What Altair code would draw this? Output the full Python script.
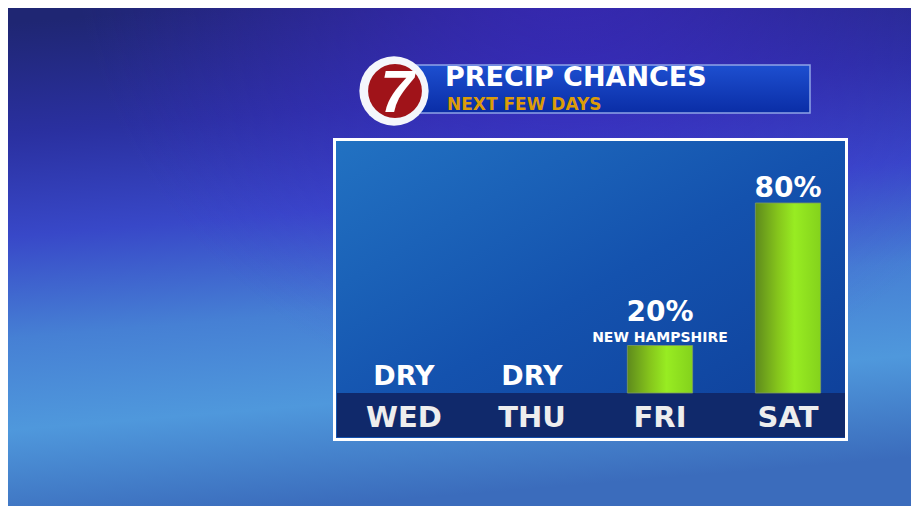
import altair as alt
import pandas as pd

# ---- data ----
days = ["WED", "THU", "FRI", "SAT"]
chances = [0, 0, 20, 80]
notes = ["", "", "NEW HAMPSHIRE", ""]
title_main = "PRECIP CHANCES"
title_sub = "NEXT FEW DAYS"

labels = ["DRY" if v == 0 else f"{v}%" for v in chances]
df = pd.DataFrame({"day": days, "chance": chances, "note": notes, "label": labels})
one = pd.DataFrame({"k": [0]})

W, H = 903, 498
FONT = "DejaVu Sans"

xscale = alt.Scale(domain=days, range=[332, 844], paddingInner=0.49, paddingOuter=0.245)
yscale = alt.Scale(domain=[0, 100], range=[385, 147.5], nice=False, zero=True)
X = alt.X("day:N", scale=xscale, axis=None, sort=days)
Y = alt.Y("chance:Q", scale=yscale, axis=None)

def grad(stops, x1=0, y1=0, x2=0, y2=1):
    return alt.Gradient(
        gradient="linear",
        stops=[alt.GradientStop(color=c, offset=o) for o, c in stops],
        x1=x1, y1=y1, x2=x2, y2=y2,
    )

def rgrad(stops, cx, cy, r):
    return alt.Gradient(
        gradient="radial",
        stops=[alt.GradientStop(color=c, offset=o) for o, c in stops],
        x1=cx, y1=cy, r1=0, x2=cx, y2=cy, r2=r,
    )

# background
bg = alt.Chart(one).mark_rect(
    fill=grad([(0, "#1f2673"), (0.22, "#2a30a0"), (0.42, "#3848c8"),
               (0.62, "#4680d4"), (0.8, "#4f98dc"), (1, "#3b6cbc")],
              x1=0.2, y1=0, x2=0.35, y2=1)
).encode(x=alt.value(0), x2=alt.value(W), y=alt.value(0), y2=alt.value(H))

glow = alt.Chart(one).mark_rect(
    fill=rgrad([(0, "rgba(70,40,215,0.65)"), (0.6, "rgba(70,40,215,0.25)"), (1, "rgba(70,40,215,0)")],
               0.62, 0.12, 0.55)
).encode(x=alt.value(0), x2=alt.value(W), y=alt.value(0), y2=alt.value(H))

# panel
panel = alt.Chart(one).mark_rect(
    fill=grad([(0, "#2272c2"), (0.5, "#1452ae"), (1, "#0e3e98")], x1=0, y1=0, x2=1, y2=1),
    stroke="white", strokeWidth=3,
).encode(x=alt.value(326.5), x2=alt.value(838.5), y=alt.value(131.5), y2=alt.value(431.5))

band = alt.Chart(one).mark_rect(fill="#10296b").encode(
    x=alt.value(329), x2=alt.value(837), y=alt.value(385), y2=alt.value(429)
)

# bars
bars = alt.Chart(df).transform_filter("datum.chance > 0").mark_bar(
    fill=grad([(0, "#5e8a1c"), (0.35, "#86c61c"), (0.6, "#98ec22"), (1, "#84d21c")],
              x1=0, y1=0, x2=1, y2=0),
    stroke="#7d9a66", strokeWidth=0.8,
).encode(x=X, y=Y, y2=alt.datum(0))

dry = alt.Chart(df).transform_filter("datum.chance == 0").mark_text(
    font=FONT, fontWeight="bold", fontSize=27, color="white",
    baseline="alphabetic", dy=-8,
).encode(x=X, y=Y, text="label:N")

pct_plain = alt.Chart(df).transform_filter("datum.chance > 0 && datum.note == ''").mark_text(
    font=FONT, fontWeight="bold", fontSize=28, color="white",
    baseline="alphabetic", dy=-6,
).encode(x=X, y=Y, text="label:N")

pct_note = alt.Chart(df).transform_filter("datum.chance > 0 && datum.note != ''").mark_text(
    font=FONT, fontWeight="bold", fontSize=28, color="white",
    baseline="alphabetic", dy=-25,
).encode(x=X, y=Y, text="label:N")

note = alt.Chart(df).transform_filter("datum.note != ''").mark_text(
    font=FONT, fontWeight="bold", fontSize=14, color="white",
    baseline="alphabetic", dy=-4,
).encode(x=X, y=Y, text="note:N")

daylab = alt.Chart(df).mark_text(
    font=FONT, fontWeight="bold", fontSize=29, color="#eeeeee",
    baseline="alphabetic",
).encode(x=X, y=alt.value(419), text="day:N")

# header banner
banner = alt.Chart(one).mark_rect(
    fill=grad([(0, "#1d4fd0"), (1, "#0a2da6")]),
    stroke="#8ea4e6", strokeWidth=1.5,
).encode(x=alt.value(405), x2=alt.value(802), y=alt.value(57), y2=alt.value(105))

logo_white = alt.Chart(one).mark_point(
    shape="circle", filled=True, fill="#f4f6fb", size=4800, opacity=1
).encode(x=alt.value(386), y=alt.value(83))

logo_red = alt.Chart(one).mark_point(
    shape="circle", filled=True, fill="#a01319", size=2900, opacity=1
).encode(x=alt.value(387), y=alt.value(83))

logo_seven = alt.Chart(one).mark_text(
    text="7", font="Liberation Sans", fontWeight="bold", fontStyle="italic",
    fontSize=60, color="white", align="center", baseline="alphabetic",
).encode(x=alt.value(389), y=alt.value(104))

t_main = alt.Chart(one).mark_text(
    text=title_main, font=FONT, fontWeight="bold", fontSize=27,
    color="white", align="left", baseline="alphabetic",
).encode(x=alt.value(437), y=alt.value(78))

t_sub = alt.Chart(one).mark_text(
    text=title_sub, font=FONT, fontWeight="bold", fontSize=17,
    color="#dc9c08", align="left", baseline="alphabetic",
).encode(x=alt.value(439), y=alt.value(102))

chart = alt.layer(
    bg, glow, panel, band, bars, dry, pct_plain, pct_note, note, daylab,
    banner, logo_white, logo_red, logo_seven, t_main, t_sub,
).properties(
    width=W, height=H, padding=0, autosize="none", background="#2a3590"
).configure_view(stroke=None)

chart.save("out.html", embed_options={"renderer": "svg", "actions": False})
